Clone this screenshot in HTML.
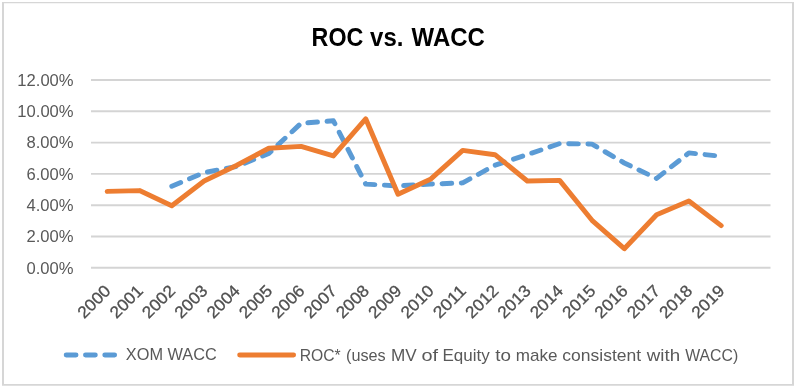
<!DOCTYPE html>
<html><head><meta charset="utf-8"><title>ROC vs. WACC</title>
<style>html,body{margin:0;padding:0;background:#fff}svg{display:block}text{font-family:"Liberation Sans",sans-serif}</style></head><body>
<svg width="796" height="388" viewBox="0 0 796 388">
<rect width="796" height="388" fill="#fff"/>
<path d="M2 2H794V385.8H2ZM4 3.2V384H792V3.2Z" fill="#d6d6d6" fill-rule="evenodd"/>
<line x1="91" x2="770.5" y1="80.0" y2="80.0" stroke="#d4d4d4" stroke-width="1.9"/>
<line x1="91" x2="770.5" y1="111.3" y2="111.3" stroke="#d4d4d4" stroke-width="1.9"/>
<line x1="91" x2="770.5" y1="142.6" y2="142.6" stroke="#d4d4d4" stroke-width="1.9"/>
<line x1="91" x2="770.5" y1="173.9" y2="173.9" stroke="#d4d4d4" stroke-width="1.9"/>
<line x1="91" x2="770.5" y1="205.2" y2="205.2" stroke="#d4d4d4" stroke-width="1.9"/>
<line x1="91" x2="770.5" y1="236.5" y2="236.5" stroke="#d4d4d4" stroke-width="1.9"/>
<line x1="91" x2="770.5" y1="267.8" y2="267.8" stroke="#d4d4d4" stroke-width="1.9"/>
<text x="73.6" y="85.8" font-size="16.6" fill="#595959" text-anchor="end">12.00%</text>
<text x="73.6" y="117.0" font-size="16.6" fill="#595959" text-anchor="end">10.00%</text>
<text x="73.6" y="148.3" font-size="16.6" fill="#595959" text-anchor="end">8.00%</text>
<text x="73.6" y="179.6" font-size="16.6" fill="#595959" text-anchor="end">6.00%</text>
<text x="73.6" y="210.9" font-size="16.6" fill="#595959" text-anchor="end">4.00%</text>
<text x="73.6" y="242.2" font-size="16.6" fill="#595959" text-anchor="end">2.00%</text>
<text x="73.6" y="273.5" font-size="16.6" fill="#595959" text-anchor="end">0.00%</text>
<text transform="translate(111.7,291.9) rotate(-45)" font-size="16.6" fill="#505050" stroke="#505050" stroke-width="0.3" text-anchor="end" textLength="38.8" lengthAdjust="spacingAndGlyphs">2000</text>
<text transform="translate(144.0,291.9) rotate(-45)" font-size="16.6" fill="#505050" stroke="#505050" stroke-width="0.3" text-anchor="end" textLength="38.8" lengthAdjust="spacingAndGlyphs">2001</text>
<text transform="translate(176.3,291.9) rotate(-45)" font-size="16.6" fill="#505050" stroke="#505050" stroke-width="0.3" text-anchor="end" textLength="38.8" lengthAdjust="spacingAndGlyphs">2002</text>
<text transform="translate(208.6,291.9) rotate(-45)" font-size="16.6" fill="#505050" stroke="#505050" stroke-width="0.3" text-anchor="end" textLength="38.8" lengthAdjust="spacingAndGlyphs">2003</text>
<text transform="translate(240.9,291.9) rotate(-45)" font-size="16.6" fill="#505050" stroke="#505050" stroke-width="0.3" text-anchor="end" textLength="38.8" lengthAdjust="spacingAndGlyphs">2004</text>
<text transform="translate(273.3,291.9) rotate(-45)" font-size="16.6" fill="#505050" stroke="#505050" stroke-width="0.3" text-anchor="end" textLength="38.8" lengthAdjust="spacingAndGlyphs">2005</text>
<text transform="translate(305.6,291.9) rotate(-45)" font-size="16.6" fill="#505050" stroke="#505050" stroke-width="0.3" text-anchor="end" textLength="38.8" lengthAdjust="spacingAndGlyphs">2006</text>
<text transform="translate(337.9,291.9) rotate(-45)" font-size="16.6" fill="#505050" stroke="#505050" stroke-width="0.3" text-anchor="end" textLength="38.8" lengthAdjust="spacingAndGlyphs">2007</text>
<text transform="translate(370.2,291.9) rotate(-45)" font-size="16.6" fill="#505050" stroke="#505050" stroke-width="0.3" text-anchor="end" textLength="38.8" lengthAdjust="spacingAndGlyphs">2008</text>
<text transform="translate(402.5,291.9) rotate(-45)" font-size="16.6" fill="#505050" stroke="#505050" stroke-width="0.3" text-anchor="end" textLength="38.8" lengthAdjust="spacingAndGlyphs">2009</text>
<text transform="translate(434.9,291.9) rotate(-45)" font-size="16.6" fill="#505050" stroke="#505050" stroke-width="0.3" text-anchor="end" textLength="38.8" lengthAdjust="spacingAndGlyphs">2010</text>
<text transform="translate(467.2,291.9) rotate(-45)" font-size="16.6" fill="#505050" stroke="#505050" stroke-width="0.3" text-anchor="end" textLength="38.8" lengthAdjust="spacingAndGlyphs">2011</text>
<text transform="translate(499.5,291.9) rotate(-45)" font-size="16.6" fill="#505050" stroke="#505050" stroke-width="0.3" text-anchor="end" textLength="38.8" lengthAdjust="spacingAndGlyphs">2012</text>
<text transform="translate(531.8,291.9) rotate(-45)" font-size="16.6" fill="#505050" stroke="#505050" stroke-width="0.3" text-anchor="end" textLength="38.8" lengthAdjust="spacingAndGlyphs">2013</text>
<text transform="translate(564.1,291.9) rotate(-45)" font-size="16.6" fill="#505050" stroke="#505050" stroke-width="0.3" text-anchor="end" textLength="38.8" lengthAdjust="spacingAndGlyphs">2014</text>
<text transform="translate(596.5,291.9) rotate(-45)" font-size="16.6" fill="#505050" stroke="#505050" stroke-width="0.3" text-anchor="end" textLength="38.8" lengthAdjust="spacingAndGlyphs">2015</text>
<text transform="translate(628.8,291.9) rotate(-45)" font-size="16.6" fill="#505050" stroke="#505050" stroke-width="0.3" text-anchor="end" textLength="38.8" lengthAdjust="spacingAndGlyphs">2016</text>
<text transform="translate(661.1,291.9) rotate(-45)" font-size="16.6" fill="#505050" stroke="#505050" stroke-width="0.3" text-anchor="end" textLength="38.8" lengthAdjust="spacingAndGlyphs">2017</text>
<text transform="translate(693.4,291.9) rotate(-45)" font-size="16.6" fill="#505050" stroke="#505050" stroke-width="0.3" text-anchor="end" textLength="38.8" lengthAdjust="spacingAndGlyphs">2018</text>
<text transform="translate(725.7,291.9) rotate(-45)" font-size="16.6" fill="#505050" stroke="#505050" stroke-width="0.3" text-anchor="end" textLength="38.8" lengthAdjust="spacingAndGlyphs">2019</text>
<path d="M171.8 186.3 L204.1 172.6 L236.4 166.5 L268.8 153.5 L301.1 123.2 L333.4 120.8 L365.7 184.1 L398.0 185.9 L430.4 184.1 L462.7 182.9 L495.0 165.2 L527.3 154.6 L559.6 143.6 L592.0 144.1 L624.3 163.0 L656.6 178.4 L688.9 152.9 L721.2 156.3" fill="none" stroke="#5b9bd5" stroke-width="4.95" stroke-linecap="round" stroke-linejoin="round" stroke-dasharray="9.64 9.6"/>
<path d="M107.2 191.4 L139.5 190.6 L171.8 205.8 L204.1 181.0 L236.4 165.5 L268.8 148.2 L301.1 146.4 L333.4 155.9 L365.7 118.8 L398.0 194.3 L430.4 179.3 L462.7 150.4 L495.0 154.7 L527.3 181.0 L559.6 180.4 L592.0 220.3 L624.3 248.7 L656.6 214.7 L688.9 201.0 L721.2 225.6" fill="none" stroke="#ed7d31" stroke-width="4.95" stroke-linecap="round" stroke-linejoin="round"/>
<text y="45.8" font-size="25.6" font-weight="bold" fill="#000"><tspan x="311.60" textLength="51.70" lengthAdjust="spacingAndGlyphs">ROC</tspan> <tspan x="370.10" textLength="33.30" lengthAdjust="spacingAndGlyphs">vs.</tspan> <tspan x="411.60" textLength="73.20" lengthAdjust="spacingAndGlyphs">WACC</tspan></text>
<path d="M66.2 354.9H120" fill="none" stroke="#5b9bd5" stroke-width="4.95" stroke-linecap="round" stroke-dasharray="9.8 9.5"/>
<text x="125.8" y="360.4" font-size="16.6" fill="#595959" textLength="91" lengthAdjust="spacingAndGlyphs">XOM WACC</text>
<path d="M239.7 354.9H293.6" fill="none" stroke="#ed7d31" stroke-width="4.95" stroke-linecap="round"/>
<text y="360.5" font-size="16.6" fill="#595959"><tspan x="299.70" textLength="41.00" lengthAdjust="spacingAndGlyphs">ROC*</tspan> <tspan x="346.00" textLength="39.70" lengthAdjust="spacingAndGlyphs">(uses</tspan> <tspan x="391.10" textLength="25.70" lengthAdjust="spacingAndGlyphs">MV</tspan> <tspan x="421.40" textLength="16.60" lengthAdjust="spacingAndGlyphs">of</tspan> <tspan x="442.40" textLength="47.30" lengthAdjust="spacingAndGlyphs">Equity</tspan> <tspan x="495.30" textLength="15.70" lengthAdjust="spacingAndGlyphs">to</tspan> <tspan x="515.80" textLength="41.70" lengthAdjust="spacingAndGlyphs">make</tspan> <tspan x="562.30" textLength="78.80" lengthAdjust="spacingAndGlyphs">consistent</tspan> <tspan x="646.80" textLength="33.30" lengthAdjust="spacingAndGlyphs">with</tspan> <tspan x="685.20" textLength="53.00" lengthAdjust="spacingAndGlyphs">WACC)</tspan></text>
</svg></body></html>
